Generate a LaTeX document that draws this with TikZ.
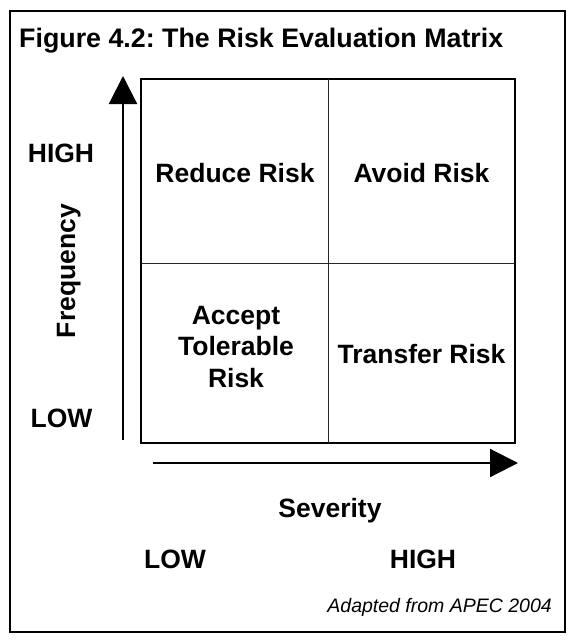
\documentclass[tikz,border=0pt]{standalone}
\usepackage{fontspec}
\setmainfont{Liberation Sans}
\usepackage{tikz}
\usetikzlibrary{arrows.meta}
\frenchspacing

\begin{document}
\begin{tikzpicture}[x=1pt, y=-1pt, every node/.style={font=\fontsize{26.5}{31.5}\selectfont\bfseries, inner sep=0pt},
		bigarrow/.style={line width=2.2pt, -{Triangle[length=28pt, width=28pt]}}]
		\useasboundingbox (0,0) rectangle (574,642);
		\draw[line width=2pt] (10,11) rectangle (565,632);
		\node[anchor=base west, font=\fontsize{26.8}{31.5}\selectfont\bfseries] (title) at (19,48) {Figure 4.2: The Risk Evaluation Matrix};
		\draw[line width=2pt] (141,79) rectangle (515,443);
		\draw[line width=1pt, black!85] (328,79) -- (328,443);
		\draw[line width=1pt, black!85] (141,263) -- (515,263);
		\node[anchor=base] (reduce) at (235,182) {Reduce Risk};
		\node[anchor=base] (avoid) at (421.5,182) {Avoid Risk};
		\node[align=center] (accept) at (236,347) {Accept\\Tolerable\\Risk};
		\node[anchor=base] (transfer) at (421.5,363) {Transfer Risk};
		\coordinate (fbot) at (123,440);
		\coordinate (ftop) at (123,76);
		\draw[bigarrow] (fbot) -- (ftop);
		\node[anchor=base] (fhigh) at (61,162) {HIGH};
		\node[anchor=base] (flow) at (61.5,427) {LOW};
		\node[anchor=base, rotate=90] (freq) at (75,271) {Frequency};
		\coordinate (sleft) at (153,463);
		\coordinate (sright) at (518,463);
		\draw[bigarrow] (sleft) -- (sright);
		\node[anchor=base] (sev) at (330,517) {Severity};
		\node[anchor=base] (slow) at (175,568) {LOW};
		\node[anchor=base] (shigh) at (423,568) {HIGH};
		\node[anchor=base east, font=\fontsize{19.5}{23}\selectfont\itshape] (src) at (552,612) {Adapted from APEC 2004};
	\end{tikzpicture}
\end{document}
